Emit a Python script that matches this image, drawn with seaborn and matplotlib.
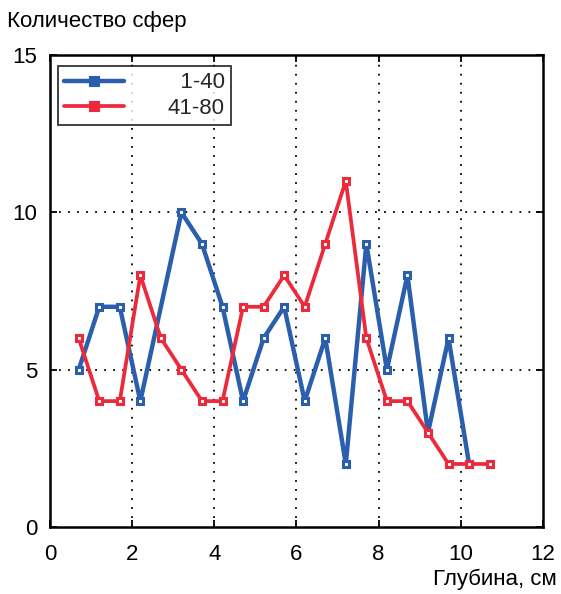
import numpy as np
import pandas as pd
import matplotlib
matplotlib.use("Agg")
import matplotlib.pyplot as plt
import seaborn as sns

# Depth (cm) and number of spheres for two sample groups
depth_1_40 = [0.7, 1.2, 1.7, 2.2, 3.2, 3.7, 4.2, 4.7, 5.2, 5.7,
              6.2, 6.7, 7.2, 7.7, 8.2, 8.7, 9.2, 9.7, 10.2]
count_1_40 = [5, 7, 7, 4, 10, 9, 7, 4, 6, 7,
              4, 6, 2, 9, 5, 8, 3, 6, 2]

depth_41_80 = [0.7, 1.2, 1.7, 2.2, 2.7, 3.2, 3.7, 4.2, 4.7, 5.2, 5.7,
               6.2, 6.7, 7.2, 7.7, 8.2, 8.7, 9.2, 9.7, 10.2, 10.7]
count_41_80 = [6, 4, 4, 8, 6, 5, 4, 4, 7, 7, 8,
               7, 9, 11, 6, 4, 4, 3, 2, 2, 2]

series_labels = ["\u20071-40", "41-80"]
x_ticks = [0, 2, 4, 6, 8, 10, 12]
y_ticks = [0, 5, 10, 15]

sns.set_theme(style="white")
plt.rcParams["font.family"] = ["Liberation Sans", "DejaVu Sans"]

blue = "#2b5fad"
red = "#ec2a3c"

fig = plt.figure(figsize=(5.61, 5.94), dpi=100)
ax = fig.add_axes([0.089, 0.113, 0.879, 0.794])

df1 = pd.DataFrame({"x": depth_1_40, "y": count_1_40})
df2 = pd.DataFrame({"x": depth_41_80, "y": count_41_80})

sns.lineplot(data=df1, x="x", y="y", ax=ax, color=blue, lw=3.2,
             marker="s", markersize=4.5, markerfacecolor="white",
             markeredgecolor=blue, markeredgewidth=2.2, sort=False,
             label=series_labels[0])
sns.lineplot(data=df2, x="x", y="y", ax=ax, color=red, lw=2.7,
             marker="s", markersize=4.5, markerfacecolor="white",
             markeredgecolor=red, markeredgewidth=2.2, sort=False,
             label=series_labels[1])

ax.set_xlim(0, 12)
ax.set_ylim(0, 15)
ax.set_xticks(x_ticks)
ax.set_yticks(y_ticks)
ax.set_xlabel("")
ax.set_ylabel("")

# Dotted inner grid lines
for xv in x_ticks[1:-1]:
    ax.axvline(xv, color="black", lw=1.3, ls=(0, (1, 4)), zorder=0)
for yv in y_ticks[1:-1]:
    ax.axhline(yv, color="black", lw=1.3, ls=(0, (1, 4)), zorder=0)

for sp in ax.spines.values():
    sp.set_visible(True)
    sp.set_color("black")
    sp.set_linewidth(1.8)

ax.tick_params(axis="both", which="both", direction="in", length=5, width=1.3,
               top=True, right=True, bottom=True, left=True,
               labelsize=16, colors="black")
ax.tick_params(axis="x", pad=12)
ax.tick_params(axis="y", pad=9)

leg = ax.legend(loc="upper left", bbox_to_anchor=(0.016, 0.978), frameon=True,
                fancybox=False, fontsize=16, handlelength=2.7,
                handletextpad=1.95, borderpad=0.3, labelspacing=0.2,
                borderaxespad=0)
leg.get_frame().set_edgecolor("black")
leg.get_frame().set_linewidth(1.3)
for h in leg.get_lines():
    h.set_markerfacecolor(h.get_color())
    h.set_markersize(5.5)

fig.text(0.012, 0.982, "Количество сфер", ha="left", va="top",
         fontsize=16, color="black")
fig.text(0.993, 0.006, "Глубина, см", ha="right", va="bottom",
         fontsize=16, color="black")

fig.savefig("out.png", dpi=100)
